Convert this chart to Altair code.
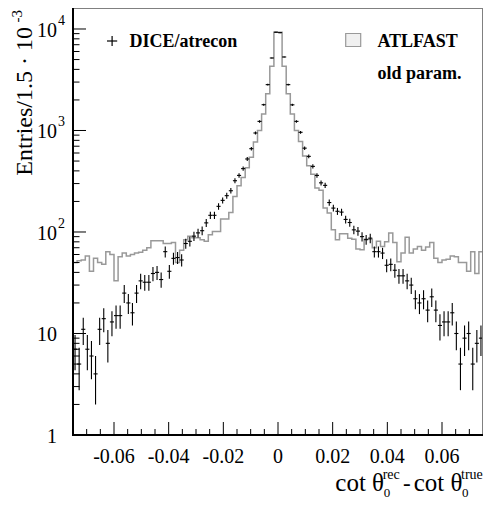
import math
import altair as alt
import pandas as pd

# ---------------- data ----------------
X_MIN, X_MAX = -0.075, 0.075
BIN_W = 0.0015
Y_MIN, Y_MAX = 1, 16100

# ATLFAST (old param.) histogram, 100 bins
atlfast = [50, 52, 53, 58, 41, 55, 50, 48, 64, 60,
           33, 57, 62, 58, 60, 62, 63, 66, 70, 82,
           82, 82, 77, 77, 79, 50, 66, 84, 91, 88,
           88, 84, 81, 94, 101, 101, 134, 134, 156, 224,
           285, 345, 430, 545, 770, 1000, 1450, 2300, 4300, 9300,
           9300, 4300, 2300, 1450, 1000, 780, 560, 450, 370, 271,
           258, 172, 154, 105, 84, 96, 96, 87, 85, 68,
           67, 85, 85, 70, 81, 72, 80, 98, 79, 51,
           62, 89, 62, 68, 72, 66, 71, 79, 55, 50,
           53, 54, 58, 57, 50, 50, 41, 64, 39, 64]

# DICE/atrecon entries, 100 bins
dice = [7, 5, 11, 7, 6, 4, 11, 14, 8, 13,
        15, 15, 25, 20, 16, 25, 33, 32, 32, 39,
        40, 34, 64, 41, 55, 56, 53, 77, 81, 91,
        98, 103, 123, 146, 146, 179, 205, 228, 255, 320,
        361, 421, 524, 662, 945, 1230, 1795, 2830, 5180, 9300,
        9200, 5300, 2830, 1790, 1230, 960, 670, 556, 443, 361,
        305, 288, 195, 172, 160, 157, 133, 124, 105, 102,
        90, 84, 87, 64, 64, 62, 47, 48, 42, 37,
        37, 33, 30, 22, 20, 22, 17, 23, 17, 12,
        13, 13, 16, 10, 5, 9, 10, 5, 8, 9]

x_major = [-0.06, -0.04, -0.02, 0.0, 0.02, 0.04, 0.06]
x_major_labels = ["-0.06", "-0.04", "-0.02", "0", "0.02", "0.04", "0.06"]
x_minor = [-0.07, -0.065, -0.055, -0.05, -0.045, -0.035, -0.03, -0.025,
           -0.015, -0.01, -0.005, 0.005, 0.01, 0.015, 0.025, 0.03, 0.035,
           0.045, 0.05, 0.055, 0.065, 0.07]
y_major = [1, 10, 100, 1000, 10000]
y_major_base = ["1", "10", "10", "10", "10"]
y_major_exp = ["", "", "2", "3", "4"]
y_minor = [m * d for d in [1, 10, 100, 1000] for m in range(2, 10)]

# ---------------- layout ----------------
W, H = 410, 427
FONT = "Liberation Serif, Times New Roman, serif"
FILL = "#f0f0f0"
LINE = "#999999"

xs = alt.Scale(domain=[X_MIN, X_MAX], nice=False, zero=False)
ys = alt.Scale(type="log", domain=[Y_MIN, Y_MAX], nice=False)

n = len(atlfast)
edges = [X_MIN + i * BIN_W for i in range(n + 1)]
centers = [(edges[i] + edges[i + 1]) / 2 for i in range(n)]

df_area = pd.DataFrame({"x": edges, "y": atlfast + [atlfast[-1]]})
line_x = [edges[0]] + edges + [edges[-1]]
line_y = [Y_MIN] + atlfast + [atlfast[-1], Y_MIN]
df_line = pd.DataFrame({"x": line_x, "y": line_y, "o": list(range(len(line_x)))})

df_pts = pd.DataFrame({
    "lo_x": edges[:-1], "hi_x": edges[1:], "c": centers, "n": dice,
    "lo": [max(v - math.sqrt(v), 1.0) for v in dice],
    "hi": [v + math.sqrt(v) for v in dice],
})

X = lambda f: alt.X(f, type="quantitative", scale=xs, axis=None)
Y = lambda f: alt.Y(f, type="quantitative", scale=ys, axis=None)

area = alt.Chart(df_area).mark_area(interpolate="step-after", fill=FILL, clip=True).encode(
    x=X("x"), y=Y("y"), y2=alt.value(H))
outline = alt.Chart(df_line).mark_line(interpolate="step-after", color=LINE, strokeWidth=1.5, clip=True).encode(
    x=X("x"), y=Y("y"), order=alt.Order("o:Q"))

err_v = alt.Chart(df_pts).mark_rule(color="black", strokeWidth=1.1, clip=True).encode(
    x=X("c"), y=Y("lo"), y2="hi:Q")
err_h = alt.Chart(df_pts).mark_rule(color="black", strokeWidth=1.1, clip=True).encode(
    x=X("lo_x"), x2="hi_x:Q", y=Y("n"))

one = pd.DataFrame({"a": [0]})

frame_top = alt.Chart(one).mark_rule(color="#808080", strokeWidth=1).encode(
    x=alt.value(0), x2=alt.value(W), y=alt.value(0.5))
frame_right = alt.Chart(one).mark_rule(color="#808080", strokeWidth=1).encode(
    x=alt.value(W - 0.5), y=alt.value(0), y2=alt.value(H))
axis_left = alt.Chart(one).mark_rule(color="black", strokeWidth=2).encode(
    x=alt.value(0), y=alt.value(0), y2=alt.value(H + 1))
axis_bottom = alt.Chart(one).mark_rule(color="black", strokeWidth=2).encode(
    x=alt.value(-1), x2=alt.value(W), y=alt.value(H))

df_xmaj = pd.DataFrame({"v": x_major, "t": x_major_labels})
df_xmin = pd.DataFrame({"v": x_minor})
df_ymaj = pd.DataFrame({"v": y_major, "t": y_major_base, "e": y_major_exp})
df_ymin = pd.DataFrame({"v": y_minor})

xt_maj = alt.Chart(df_xmaj).mark_rule(color="black", strokeWidth=1).encode(
    x=X("v"), y=alt.value(H), y2=alt.value(H - 13))
xt_min = alt.Chart(df_xmin).mark_rule(color="black", strokeWidth=1).encode(
    x=X("v"), y=alt.value(H), y2=alt.value(H - 6))
yt_maj = alt.Chart(df_ymaj).mark_rule(color="black", strokeWidth=1).encode(
    y=Y("v"), x=alt.value(0), x2=alt.value(13))
yt_min = alt.Chart(df_ymin).mark_rule(color="black", strokeWidth=1).encode(
    y=Y("v"), x=alt.value(0), x2=alt.value(6.5))

x_lab = alt.Chart(df_xmaj).mark_text(font=FONT, fontSize=20, align="center", baseline="alphabetic").encode(
    x=X("v"), y=alt.value(454.5), text="t:N")
y_lab = alt.Chart(df_ymaj).mark_text(font=FONT, fontSize=20, align="right", baseline="alphabetic", dy=8).encode(
    y=Y("v"), x=alt.value(-16), text="t:N")
y_exp = alt.Chart(df_ymaj).mark_text(font=FONT, fontSize=14, align="left", baseline="alphabetic", dy=-4).encode(
    y=Y("v"), x=alt.value(-15), text="e:N")


def txt(s, x, y, size, weight="normal", align="left", angle=0):
    return alt.Chart(pd.DataFrame({"s": [s]})).mark_text(
        font=FONT, fontSize=size, fontWeight=weight, align=align,
        baseline="alphabetic", angle=angle).encode(
        x=alt.value(x), y=alt.value(y), text="s:N")


ytitle = txt("Entries/1.5 · 10", -41.5, 19, 24, align="right", angle=270)
ytitle_sup = txt("-3", -51, 2, 15, align="right", angle=270)

XT_Y = 482.5   # baseline of main x-title text
xt1 = txt("cot θ", 262.3, XT_Y, 25)
xt2 = txt("rec", 309.7, XT_Y - 11.5, 14)
xt3 = txt("0", 310.7, XT_Y + 6.5, 13)
xt4 = txt("-", 330.0, XT_Y, 23)
xt5 = txt("cot θ", 340.7, XT_Y, 25)
xt6 = txt("true", 388.0, XT_Y - 11.5, 14)
xt7 = txt("0", 389.0, XT_Y + 6.5, 13)

leg_h = alt.Chart(one).mark_rule(color="black", strokeWidth=1.2).encode(
    x=alt.value(34.0), x2=alt.value(44.2), y=alt.value(33))
leg_v = alt.Chart(one).mark_rule(color="black", strokeWidth=1.2).encode(
    x=alt.value(39.1), y=alt.value(28), y2=alt.value(38))
leg_t1 = txt("DICE/atrecon", 56.5, 38.7, 18, weight="bold")
leg_box = alt.Chart(one).mark_rect(fill=FILL, stroke=LINE, strokeWidth=1.2).encode(
    x=alt.value(272.7), x2=alt.value(287.7), y=alt.value(25.5), y2=alt.value(38.5))
leg_t2 = txt("ATLFAST", 304.4, 38.7, 18, weight="bold")
leg_t3 = txt("old param.", 304.4, 70.7, 18, weight="bold")

chart = alt.layer(
    area, outline, err_v, err_h,
    frame_top, frame_right,
    xt_maj, xt_min, yt_maj, yt_min,
    axis_left, axis_bottom,
    x_lab, y_lab, y_exp,
    ytitle, ytitle_sup,
    xt1, xt2, xt3, xt4, xt5, xt6, xt7,
    leg_h, leg_v, leg_t1, leg_box, leg_t2, leg_t3,
).properties(
    width=W, height=H,
    autosize=alt.AutoSizeParams(type="none"),
    padding={"left": 65, "top": 0, "right": 1, "bottom": 66},
    background="white",
).configure_view(stroke=None)

chart.save("out.html", embed_options={"renderer": "svg", "actions": False})
